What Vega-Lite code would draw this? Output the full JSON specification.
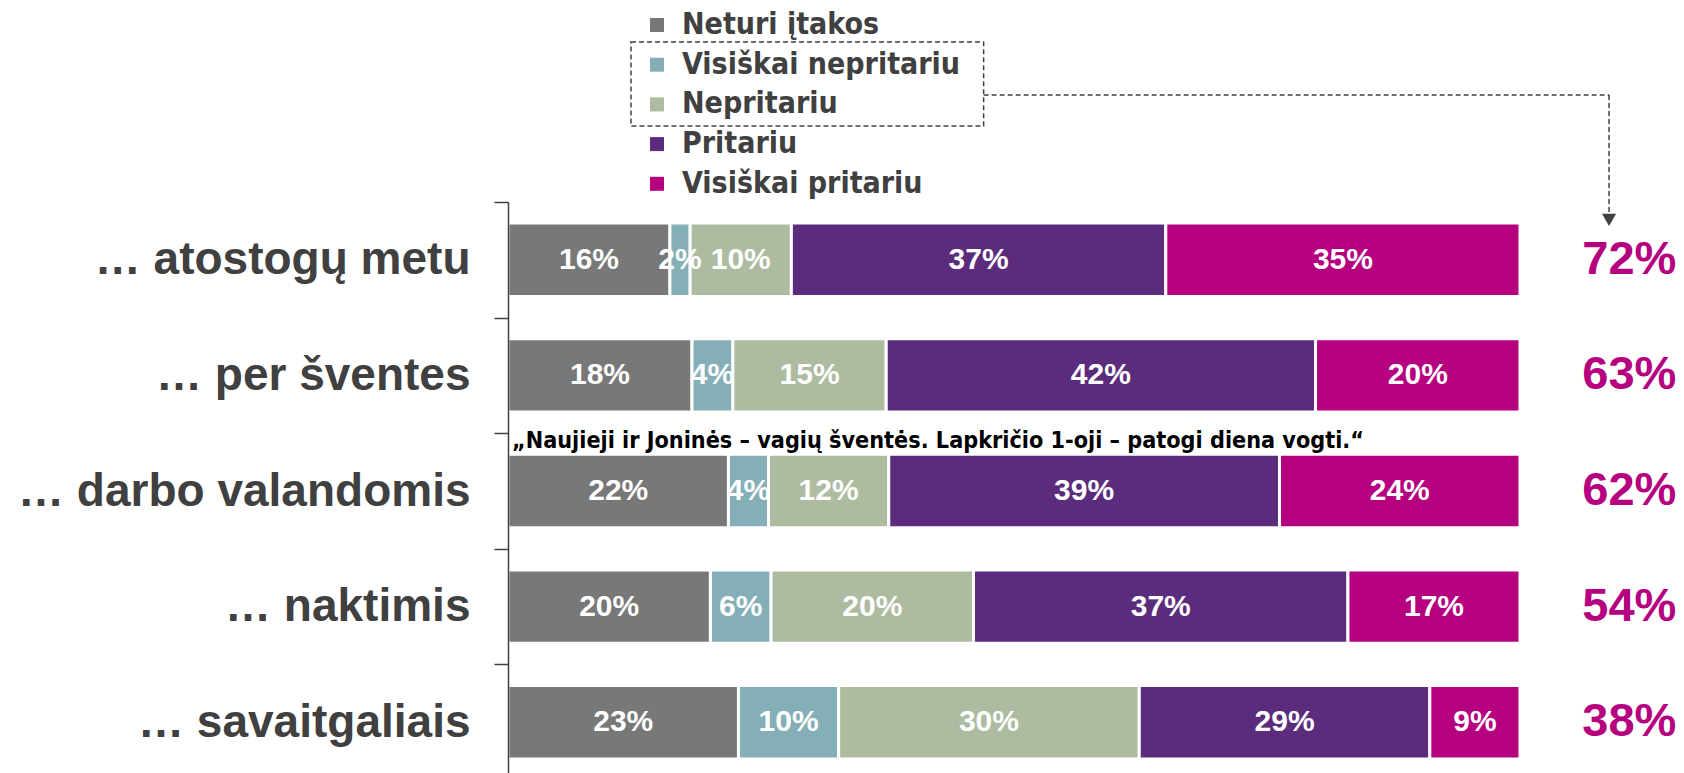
{
  "$schema": "https://vega.github.io/schema/vega-lite/v6.json",
  "width": 1012,
  "height": 578,
  "autosize": {"type": "none"},
  "padding": {"left": 508, "top": 202, "right": 164, "bottom": 0},
  "background": "white",
  "config": {"view": {"stroke": null}, "font": "Liberation Sans"},
  "datasets": {
    "bars": [
      {"cat": "… atostogų metu", "resp": "Neturi įtakos", "idx": 1, "value": 16, "label": "16%"},
      {"cat": "… atostogų metu", "resp": "Visiškai nepritariu", "idx": 2, "value": 2, "label": "2%"},
      {"cat": "… atostogų metu", "resp": "Nepritariu", "idx": 3, "value": 10, "label": "10%"},
      {"cat": "… atostogų metu", "resp": "Pritariu", "idx": 4, "value": 37, "label": "37%"},
      {"cat": "… atostogų metu", "resp": "Visiškai pritariu", "idx": 5, "value": 35, "label": "35%"},
      {"cat": "… per šventes", "resp": "Neturi įtakos", "idx": 1, "value": 18, "label": "18%"},
      {"cat": "… per šventes", "resp": "Visiškai nepritariu", "idx": 2, "value": 4, "label": "4%"},
      {"cat": "… per šventes", "resp": "Nepritariu", "idx": 3, "value": 15, "label": "15%"},
      {"cat": "… per šventes", "resp": "Pritariu", "idx": 4, "value": 42, "label": "42%"},
      {"cat": "… per šventes", "resp": "Visiškai pritariu", "idx": 5, "value": 20, "label": "20%"},
      {"cat": "… darbo valandomis", "resp": "Neturi įtakos", "idx": 1, "value": 22, "label": "22%"},
      {"cat": "… darbo valandomis", "resp": "Visiškai nepritariu", "idx": 2, "value": 4, "label": "4%"},
      {"cat": "… darbo valandomis", "resp": "Nepritariu", "idx": 3, "value": 12, "label": "12%"},
      {"cat": "… darbo valandomis", "resp": "Pritariu", "idx": 4, "value": 39, "label": "39%"},
      {"cat": "… darbo valandomis", "resp": "Visiškai pritariu", "idx": 5, "value": 24, "label": "24%"},
      {"cat": "… naktimis", "resp": "Neturi įtakos", "idx": 1, "value": 20, "label": "20%"},
      {"cat": "… naktimis", "resp": "Visiškai nepritariu", "idx": 2, "value": 6, "label": "6%"},
      {"cat": "… naktimis", "resp": "Nepritariu", "idx": 3, "value": 20, "label": "20%"},
      {"cat": "… naktimis", "resp": "Pritariu", "idx": 4, "value": 37, "label": "37%"},
      {"cat": "… naktimis", "resp": "Visiškai pritariu", "idx": 5, "value": 17, "label": "17%"},
      {"cat": "… savaitgaliais", "resp": "Neturi įtakos", "idx": 1, "value": 23, "label": "23%"},
      {"cat": "… savaitgaliais", "resp": "Visiškai nepritariu", "idx": 2, "value": 10, "label": "10%"},
      {"cat": "… savaitgaliais", "resp": "Nepritariu", "idx": 3, "value": 30, "label": "30%"},
      {"cat": "… savaitgaliais", "resp": "Pritariu", "idx": 4, "value": 29, "label": "29%"},
      {"cat": "… savaitgaliais", "resp": "Visiškai pritariu", "idx": 5, "value": 9, "label": "9%"}
    ],
    "totals": [
      {"cat": "… atostogų metu", "total": "72%"},
      {"cat": "… per šventes", "total": "63%"},
      {"cat": "… darbo valandomis", "total": "62%"},
      {"cat": "… naktimis", "total": "54%"},
      {"cat": "… savaitgaliais", "total": "38%"}
    ],
    "note": [
      {"cat": "… darbo valandomis", "text": "„Naujieji ir Joninės – vagių šventės. Lapkričio 1-oji – patogi diena vogti.“"}
    ]
  },
  "layer": [
    {
      "layer": [
        {
          "data": {"name": "bars"},
          "mark": {"type": "bar", "stroke": "white", "strokeWidth": 3, "height": {"band": 0.635}},
          "encoding": {
            "y": {
              "field": "cat", "type": "nominal", "sort": null,
              "scale": {"domain": ["… atostogų metu", "… per šventes", "… darbo valandomis", "… naktimis", "… savaitgaliais"], "paddingInner": 0, "paddingOuter": 0},
              "axis": {"title": null, "domainColor": "#404040", "domainWidth": 1.5, "tickBand": "extent", "tickSize": 14, "tickColor": "#404040", "tickWidth": 1.5, "labelFontSize": 46, "labelFontWeight": "bold", "labelColor": "#404040", "labelFont": "Liberation Sans", "labelPadding": 24, "labelLimit": 0, "zindex": 1}
            },
            "x": {"field": "value", "type": "quantitative", "stack": "normalize", "scale": {"domain": [0, 1], "nice": false}, "axis": null},
            "color": {
              "field": "resp", "type": "nominal",
              "scale": {"domain": ["Neturi įtakos", "Visiškai nepritariu", "Nepritariu", "Pritariu", "Visiškai pritariu"], "range": ["#787878", "#84afb6", "#adbba0", "#5b2c7b", "#b5007f"]},
              "legend": {"orient": "none", "direction": "vertical", "legendX": 134, "legendY": -192, "title": null, "labelFont": "DejaVu Sans Condensed", "labelFontSize": 30, "labelFontWeight": "bold", "labelColor": "#404040", "symbolType": "square", "symbolSize": 196, "symbolStrokeWidth": 0, "rowPadding": 9.7, "labelOffset": 10, "padding": 0, "labelLimit": 0}
            },
            "order": {"field": "idx", "type": "quantitative"}
          }
        },
        {
          "data": {"name": "bars"},
          "mark": {"type": "text", "color": "white", "fontSize": 30, "fontWeight": "bold", "font": "Liberation Sans"},
          "encoding": {
            "y": {"field": "cat", "type": "nominal", "sort": null},
            "x": {"field": "value", "type": "quantitative", "stack": "normalize", "bandPosition": 0.5, "scale": {"domain": [0, 1], "nice": false}},
            "detail": {"field": "resp"},
            "order": {"field": "idx", "type": "quantitative"},
            "text": {"field": "label"}
          }
        },
        {
          "data": {"name": "totals"},
          "mark": {"type": "text", "color": "#b5007f", "fontSize": 47, "fontWeight": "bold", "font": "Liberation Sans"},
          "encoding": {
            "y": {"field": "cat", "type": "nominal", "sort": null},
            "x": {"datum": 1.108, "type": "quantitative", "scale": {"domain": [0, 1], "nice": false}},
            "text": {"field": "total"}
          }
        },
        {
          "data": {"name": "note"},
          "mark": {"type": "text", "align": "left", "baseline": "middle", "dx": 4, "dy": 8, "fontSize": 23.2, "fontWeight": "bold", "font": "DejaVu Sans Condensed", "color": "black"},
          "encoding": {
            "y": {"field": "cat", "type": "nominal", "sort": null, "bandPosition": 0},
            "x": {"datum": 0, "type": "quantitative", "scale": {"domain": [0, 1], "nice": false}},
            "text": {"field": "text"}
          }
        }
      ]
    },
    {
      "data": {"values": [{}]},
      "layer": [
        {
          "mark": {"type": "rect", "filled": false, "color": "#404040", "strokeDash": [5, 3], "strokeWidth": 1.5},
          "encoding": {
            "x": {"datum": 0.1215, "type": "quantitative", "scale": {"domain": [0, 1], "nice": false}},
            "x2": {"datum": 0.47},
            "y": {"datum": 1.277, "type": "quantitative", "scale": {"domain": [0, 1], "nice": false, "zero": false}, "axis": null},
            "y2": {"datum": 1.1315}
          }
        },
        {
          "mark": {"type": "rule", "color": "#404040", "strokeDash": [5, 3], "strokeWidth": 1.5},
          "encoding": {
            "x": {"datum": 0.47, "type": "quantitative", "scale": {"domain": [0, 1], "nice": false}},
            "x2": {"datum": 1.088},
            "y": {"datum": 1.185, "type": "quantitative", "scale": {"domain": [0, 1], "nice": false, "zero": false}, "axis": null}
          }
        },
        {
          "mark": {"type": "rule", "color": "#404040", "strokeDash": [5, 3], "strokeWidth": 1.5},
          "encoding": {
            "x": {"datum": 1.088, "type": "quantitative", "scale": {"domain": [0, 1], "nice": false}},
            "y": {"datum": 1.185, "type": "quantitative", "scale": {"domain": [0, 1], "nice": false, "zero": false}, "axis": null},
            "y2": {"datum": 0.98}
          }
        },
        {
          "mark": {"type": "point", "shape": "triangle-down", "filled": true, "size": 200, "color": "#404040", "opacity": 1},
          "encoding": {
            "x": {"datum": 1.088, "type": "quantitative", "scale": {"domain": [0, 1], "nice": false}},
            "y": {"datum": 0.969, "type": "quantitative", "scale": {"domain": [0, 1], "nice": false, "zero": false}, "axis": null}
          }
        }
      ]
    }
  ],
  "resolve": {"scale": {"y": "independent"}, "axis": {"y": "independent"}}
}
